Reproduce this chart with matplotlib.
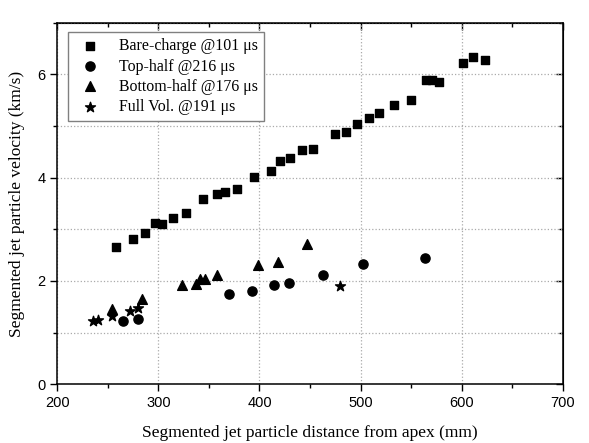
import matplotlib
matplotlib.use("Agg")
import matplotlib.pyplot as plt
from matplotlib.ticker import MultipleLocator

# data
bare_x = [258, 275, 287, 297, 304, 314, 327, 344, 358, 366, 378, 395, 411, 420, 430,
          442, 453, 475, 486, 496, 508, 518, 533, 550, 565, 571, 578, 601, 611, 623]
bare_y = [2.66, 2.81, 2.93, 3.12, 3.11, 3.22, 3.32, 3.58, 3.68, 3.73, 3.78, 4.01, 4.13, 4.33, 4.39,
          4.54, 4.56, 4.85, 4.89, 5.04, 5.16, 5.25, 5.41, 5.51, 5.89, 5.89, 5.86, 6.21, 6.33, 6.28]

top_x = [265, 280, 370, 393, 414, 429, 463, 502, 564]
top_y = [1.22, 1.26, 1.75, 1.81, 1.93, 1.97, 2.11, 2.32, 2.44]

bottom_x = [254, 284, 323, 337, 341, 346, 358, 399, 418, 447]
bottom_y = [1.45, 1.66, 1.92, 1.94, 2.03, 2.03, 2.11, 2.31, 2.36, 2.72]

full_x = [235, 240, 254, 272, 280, 480]
full_y = [1.22, 1.25, 1.32, 1.42, 1.47, 1.91]

labels = ["Bare-charge @101 \u03bcs", "Top-half @216 \u03bcs",
          "Bottom-half @176 \u03bcs", "Full Vol. @191 \u03bcs"]

serif = "Liberation Serif"
sans = "Liberation Sans"

fig = plt.figure(figsize=(5.89, 4.43), dpi=100)
ax = fig.add_axes([0.0973, 0.1325, 0.8581, 0.8163])

# markers
ax.scatter(bare_x, bare_y, marker="s", s=5.2 ** 2, color="black", label=labels[0], zorder=3)
ax.scatter(top_x, top_y, marker="o", s=6.6 ** 2, color="black", label=labels[1], zorder=3)
ax.scatter(bottom_x, bottom_y, marker="^", s=7.0 ** 2, color="black", label=labels[2], zorder=3)
ax.scatter(full_x, full_y, marker="*", s=7.5 ** 2, color="black", label=labels[3], zorder=3)

ax.set_xlim(200, 700)
ax.set_ylim(0, 7)
ax.xaxis.set_major_locator(MultipleLocator(100))
ax.xaxis.set_minor_locator(MultipleLocator(50))
ax.yaxis.set_major_locator(MultipleLocator(2))
ax.yaxis.set_minor_locator(MultipleLocator(1))

# grid: vertical lines at major x only, horizontal at every unit
ax.grid(axis="x", which="major", linestyle=":", color="#aaaaaa", linewidth=0.9)
ax.grid(axis="y", which="both", linestyle=":", color="#aaaaaa", linewidth=0.9)
ax.set_axisbelow(True)

ax.tick_params(which="major", direction="out", length=5, width=1, labelsize=10.5)
ax.tick_params(which="minor", direction="out", length=3, width=1)
for lab in ax.get_xticklabels() + ax.get_yticklabels():
    lab.set_fontfamily(sans)

# inward ticks on the top and right
top = ax.secondary_xaxis("top")
top.xaxis.set_major_locator(MultipleLocator(100))
top.xaxis.set_minor_locator(MultipleLocator(50))
top.tick_params(which="major", direction="in", length=5, width=1, labeltop=False)
top.tick_params(which="minor", direction="in", length=3, width=1)
right = ax.secondary_yaxis("right")
right.yaxis.set_major_locator(MultipleLocator(2))
right.yaxis.set_minor_locator(MultipleLocator(1))
right.tick_params(which="major", direction="in", length=5, width=1, labelright=False)
right.tick_params(which="minor", direction="in", length=3, width=1)

for sp in ax.spines.values():
    sp.set_linewidth(1.1)

ax.set_xlabel("Segmented jet particle distance from apex (mm)", fontfamily=serif, fontsize=12.5, labelpad=11)
ax.set_ylabel("Segmented jet particle velocity (km/s)", fontfamily=serif, fontsize=12.5, labelpad=9)

leg = ax.legend(loc="upper left", bbox_to_anchor=(0.021, 0.974), borderaxespad=0,
                scatterpoints=1, prop={"family": serif, "size": 11.4}, labelspacing=0.26,
                fancybox=False, framealpha=1, edgecolor="#808080")
leg.get_frame().set_linewidth(1.0)

fig.savefig("out.png", dpi=100)
